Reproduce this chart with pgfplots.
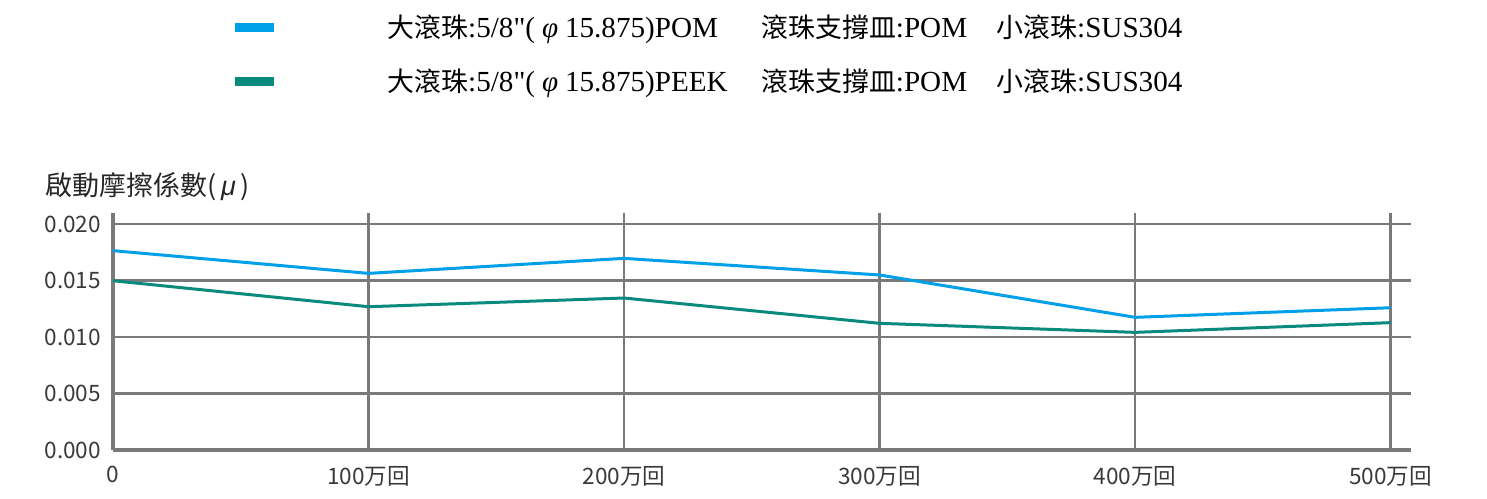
\documentclass[border=0pt]{standalone}
\usepackage{fontspec}
\usepackage{pgfplots}
\pgfplotsset{compat=1.18}
\setmainfont{Noto Sans CJK TC}
\newfontfamily\legserif{Liberation Serif}[Scale=1.04]
\newfontfamily\lsans{Liberation Sans}
\newfontfamily\cjk{Noto Sans CJK TC}[Scale=0.96]
\definecolor{cblue}{HTML}{00A0E8}
\definecolor{cteal}{HTML}{0A8A7D}
\definecolor{gridgray}{HTML}{7A7A7A}
\definecolor{labgray}{HTML}{3A3A3A}
\newcommand{\phisym}{\makebox[15pt]{\legserif\itshape φ}}
\newcommand{\legA}{\makebox[187pt][l]{\cjk 大滾珠\legserif :5/8"(\phisym 15.875)POM}\makebox[117.5pt][l]{\cjk 滾珠支撐皿\legserif :POM}{\cjk 小滾珠}\legserif :SUS304}
\newcommand{\legB}{\makebox[187pt][l]{\cjk 大滾珠\legserif :5/8"(\phisym 15.875)PEEK}\makebox[117.5pt][l]{\cjk 滾珠支撐皿\legserif :POM}{\cjk 小滾珠}\legserif :SUS304}
\begin{document}
\begin{tikzpicture}
\useasboundingbox (0,0) rectangle (743.5pt,249pt);
\begin{axis}[
  at={(56.5pt,24pt)}, anchor=south west,
  scale only axis, width=649pt, height=118.65pt,
  xmin=0, xmax=508, ymin=0, ymax=0.0210,
  axis lines*=left,
  axis line style={draw=gridgray, line width=1.8pt, -},
  xtick={0,100,200,300,400,500},
  xticklabels={0,100万回,200万回,300万回,400万回,500万回},
  ytick={0,0.005,0.010,0.015,0.020},
  yticklabels={0.000,0.005,0.010,0.015,0.020},
  scaled y ticks=false,
  major tick length=0pt,
  grid=major,
  major grid style={draw=gridgray, line width=1.2pt},
  tick label style={font=\fontsize{11.3}{13}\selectfont, text=labgray},
  xticklabel style={yshift=-4.5pt},
  yticklabel style={xshift=-2.5pt},
  legend style={at={(0.0901,1.8416)}, anchor=north west, draw=none, fill=none,
    inner sep=0pt, row sep=13pt, font=\fontsize{14}{16}\selectfont,
    nodes={inner sep=0pt, text height=12pt, text depth=2pt}},
  legend cell align=left,
  legend image code/.code={\draw[#1, line width=4.2pt] (0pt,0pt) -- (19.5pt,0pt); \path[draw=none] (0pt,0pt) -- (76.5pt,0pt);},
]
\addplot[cblue, line width=1.5pt] coordinates {(0,0.01764) (100,0.01563) (200,0.01696) (300,0.01549) (400,0.01174) (500,0.01259)};
\addlegendentry{\legA}
\addplot[cteal, line width=1.5pt] coordinates {(0,0.01498) (100,0.01268) (200,0.01345) (300,0.01121) (400,0.01041) (500,0.01127)};
\addlegendentry{\legB}
\end{axis}
\node[anchor=west, inner sep=0pt, font=\fontsize{13.5}{15}\selectfont, text=black!85] at (22.5pt,155.5pt) {啟動摩擦係數(\,{\lsans\itshape μ}\,)};
\end{tikzpicture}
\end{document}
